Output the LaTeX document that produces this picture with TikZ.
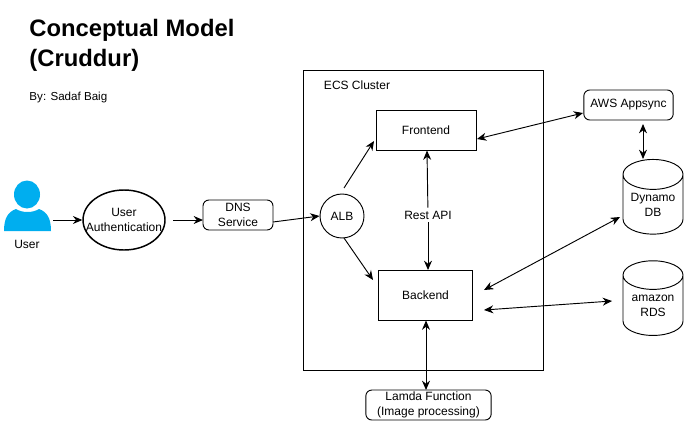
\documentclass[tikz,border=0pt]{standalone}
\usepackage{fontspec}
\setmainfont{Liberation Sans}
\usetikzlibrary{arrows.meta,shapes.geometric}
\definecolor{userblue}{HTML}{00AEEF}
\tikzset{
  label text/.style={font=\fontsize{9}{11.25}\selectfont, align=center},
  box/.style={draw, label text, inner sep=0pt},
  roundbox/.style={box, rounded corners=4.5pt},
  store/.style={box, cylinder, shape border rotate=90, aspect=0.67, minimum width=45pt, minimum height=56pt},
  link/.style={-{Stealth[length=7pt,width=6pt]}, line width=0.7pt},
  both/.style={{Stealth[length=7pt,width=6pt]}-{Stealth[length=7pt,width=6pt]}, line width=0.7pt}
}
\begin{document}
\begin{tikzpicture}[x=0.75pt, y=-0.75pt, line width=0.7pt]
  \useasboundingbox (0,0) rectangle (684,421);

  % heading
  \node[anchor=west, inner sep=0pt, align=left, font=\fontsize{17.85}{22.5}\selectfont\bfseries] (title) at (29,45) {Conceptual Model\\(Cruddur)};
  \node[anchor=west, inner sep=0pt, font=\fontsize{8.7}{10}\selectfont] (author) at (29,97) {By: Sadaf Baig};

  % user icon
  \fill[userblue] (4,231) -- (51,231)
    .. controls (51,218) and (47,212) .. (39,209)
    .. controls (33,213) and (22,213) .. (16,209)
    .. controls (8,212) and (4,218) .. (4,231) -- cycle;
  \fill[userblue] (27,194.5) ellipse [x radius=13, y radius=14];
  \coordinate (user) at (53,220);
  \node[label text] (username) at (27,244) {User};

  % boxes
  \node[box, ellipse, line width=1.1pt, inner xsep=-7pt, minimum width=61.5pt, minimum height=45pt] (auth) at (124,220) {User\\Authentication};
  \node[roundbox, minimum width=52.5pt, minimum height=22.5pt] (dns) at (238,215) {DNS\\Service};
  \node[box, minimum width=180pt, minimum height=225pt] (cluster) at (423,220) {};
  \node[label text] (clustername) at (357,85) {ECS Cluster};
  \node[box, circle, minimum size=33pt] (alb) at (342,216) {ALB};
  \node[box, minimum width=75pt, minimum height=30pt] (frontend) at (426,130) {Frontend};
  \node[box, minimum width=71pt, minimum height=37.5pt] (backend) at (425.5,295) {Backend};
  \node[label text, fill=white, inner sep=2pt] (restapi) at (428,215) {Rest API};
  \node[roundbox, minimum width=94pt, minimum height=22.5pt] (lamda) at (428.5,405) {Lamda Function\\(Image processing)};
  \node[roundbox, minimum width=67pt, minimum height=22.5pt] (appsync) at (628.5,105) {AWS Appsync};
  \node[store] (dynamo) at (653,204.5) {Dynamo\\DB};
  \node[store] (rds) at (653,305.5) {amazon\\RDS};

  % free ends of the arrows that stop short of a box
  \coordinate (authOut) at (173,220);
  \coordinate (dnsIn) at (203,220);
  \coordinate (backendA) at (373,280);
  \coordinate (backendB) at (484,290);
  \coordinate (backendC) at (484,310);
  \coordinate (backendD) at (426,320.5);
  \coordinate (dynamoIn) at (620,217);
  \coordinate (dynamoTop) at (643,159);
  \coordinate (rdsIn) at (612,301);
  \coordinate (appsyncOut) at (643,124);
  \coordinate (albA) at (344,188);
  \coordinate (albB) at (344,238);
  \coordinate (frontendA) at (374,141);
  \coordinate (frontendB) at (477,139);
  \coordinate (frontendC) at (427,150.5);
  \coordinate (backendE) at (428,270);
  \coordinate (appsyncIn) at (583,113);
  \coordinate (dnsOut) at (273,222);
  \coordinate (lamdaIn) at (426,390);

  % connectors
  \draw[link] (user) -- (auth.west);
  \draw[link] (authOut) -- (dnsIn);
  \draw[link] (dnsOut) -- (alb.west);
  \draw[link] (albA) -- (frontendA);
  \draw[link] (albB) -- (backendA);
  \draw[both] (frontendB) -- (appsyncIn);
  \draw[link] (restapi) -- (frontendC);
  \draw[link] (restapi) -- (backendE);
  \draw[both] (backendB) -- (dynamoIn);
  \draw[both] (backendC) -- (rdsIn);
  \draw[both] (backendD) -- (lamdaIn);
  \draw[both] (appsyncOut) -- (dynamoTop);
\end{tikzpicture}
\end{document}
